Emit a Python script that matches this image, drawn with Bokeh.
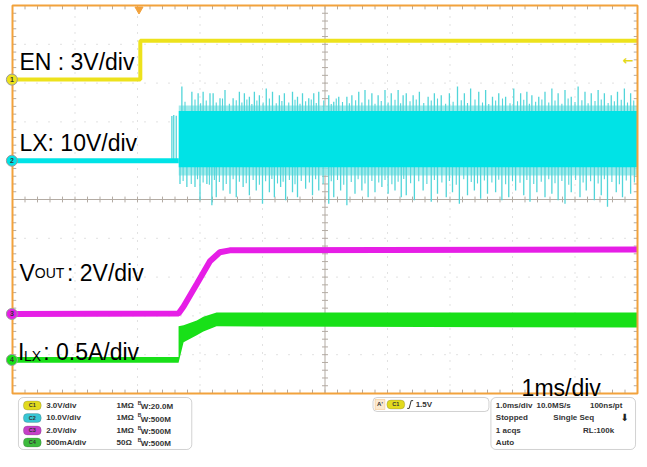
import numpy as np
from bokeh.plotting import figure
from bokeh.models import Range1d, Label, BoxAnnotation
from bokeh.core.properties import value
from bokeh.embed import file_html
from bokeh.resources import INLINE

# ---------------- data (x: time in ms, 1 ms/div; y: screen divisions from bottom)
en_time = [0.0, 2.045, 2.045, 10.0]
en_level = [8.09, 8.09, 9.09, 9.09]

lx_base_time = [0.0, 2.66]
lx_base_level = [6.00, 6.00]
lx_band_time = [2.66, 10.0]
lx_band_top = [7.28, 7.28]
lx_band_bot = [5.83, 5.83]
lx_fuzz_top = [7.42, 7.42]
lx_fuzz_bot = [5.62, 5.62]

lx_up_time = [2.55, 2.58, 2.62,
              2.71, 2.87, 2.97, 3.05, 3.16, 3.21, 3.32, 3.40, 3.53, 3.63,
              3.71, 3.79, 3.87, 3.95, 4.06, 4.16, 4.27, 4.35, 4.48, 4.56,
              4.64, 4.74, 4.82, 4.90, 5.06, 5.14, 5.22, 5.35, 5.43, 5.54,
              5.64, 5.75, 5.85, 5.96, 6.06, 6.17, 6.25,
              6.30, 6.41, 6.51, 6.65, 6.75, 6.86, 6.99, 7.12, 7.23, 7.33,
              7.46, 7.57, 7.68, 7.78, 7.89, 8.02, 8.13, 8.23, 8.31, 8.42,
              8.52, 8.63, 8.73, 8.84, 8.94, 9.05, 9.16, 9.26, 9.37, 9.47,
              9.58, 9.68, 9.79, 9.89]
lx_up_tip = [7.15, 7.18, 7.16,
             7.91, 7.78, 7.74, 7.78, 7.74, 7.74, 7.61, 7.82, 7.61, 7.78,
             7.74, 7.65, 7.78, 7.69, 7.86, 7.78, 7.69, 7.74, 7.78, 7.65,
             7.74, 7.61, 7.74, 7.78, 7.69, 7.52, 7.65, 7.65, 7.69, 7.78,
             7.82, 7.74, 7.69, 7.82, 7.74, 7.82, 7.69,
             7.74, 7.69, 7.78, 7.65, 7.74, 7.69, 7.74, 7.91, 7.74, 7.86,
             7.78, 7.82, 7.65, 7.74, 7.65, 7.86, 7.74, 7.78, 7.69, 7.65,
             7.78, 7.86, 7.74, 7.82, 7.65, 7.91, 7.78, 7.74, 7.82, 7.74,
             7.69, 7.78, 7.86, 7.74]
# shorter, denser spikes of the hairy edge above the band
lx_up2_time = [2.76, 2.92, 3.01, 3.10, 3.26, 3.36, 3.47, 3.58, 3.67, 3.75,
               3.83, 3.91, 4.01, 4.11, 4.22, 4.31, 4.42, 4.52, 4.60, 4.69,
               4.78, 4.86, 4.98, 5.10, 5.18, 5.28, 5.39, 5.49, 5.59, 5.70,
               5.80, 5.90, 6.01, 6.12, 6.21, 6.36, 6.46, 6.58, 6.70, 6.80,
               6.93, 7.05, 7.18, 7.28, 7.40, 7.52, 7.62, 7.73, 7.84, 7.96,
               8.08, 8.18, 8.27, 8.37, 8.47, 8.58, 8.68, 8.79, 8.89, 9.00,
               9.11, 9.21, 9.32, 9.42, 9.53, 9.63, 9.74, 9.84, 9.94]
lx_up2_tip = [7.52, 7.58, 7.48, 7.55, 7.50, 7.60, 7.47, 7.56, 7.50, 7.58,
              7.46, 7.55, 7.50, 7.60, 7.48, 7.54, 7.50, 7.57, 7.47, 7.53,
              7.58, 7.49, 7.55, 7.46, 7.60, 7.51, 7.48, 7.56, 7.50, 7.58,
              7.47, 7.54, 7.50, 7.57, 7.48, 7.53, 7.58, 7.49, 7.55, 7.60,
              7.47, 7.52, 7.56, 7.49, 7.58, 7.50, 7.46, 7.55, 7.60, 7.48,
              7.53, 7.57, 7.47, 7.52, 7.58, 7.50, 7.55, 7.47, 7.60, 7.51,
              7.56, 7.48, 7.54, 7.58, 7.49, 7.53, 7.57, 7.50, 7.55]
lx_dn_time = [2.68, 2.79, 2.92, 3.00, 3.11, 3.19, 3.26, 3.37, 3.48, 3.58,
              3.69, 3.79, 3.90, 4.00, 4.11, 4.19, 4.29, 4.37, 4.48, 4.56,
              4.69, 4.80, 4.90, 5.06, 5.14, 5.25, 5.35, 5.48, 5.59, 5.69,
              5.80, 5.91, 6.01, 6.12, 6.22,
              6.30, 6.43, 6.57, 6.70, 6.80, 6.94, 7.04, 7.15, 7.28, 7.39,
              7.49, 7.60, 7.73, 7.83, 7.94, 8.05, 8.18, 8.28, 8.39, 8.52,
              8.63, 8.73, 8.84, 8.94, 9.08, 9.18, 9.31, 9.42, 9.52, 9.66,
              9.76, 9.89]
lx_dn_tip = [5.40, 5.32, 5.32, 4.98, 5.40, 4.85, 5.06, 5.23, 5.15, 5.06,
             5.32, 5.11, 5.23, 4.89, 5.19, 5.06, 5.32, 4.98, 5.19, 5.06,
             5.28, 5.11, 5.23, 4.89, 5.06, 5.23, 4.85, 5.15, 5.23, 5.06,
             5.19, 5.32, 5.15, 5.23, 5.06,
             5.11, 4.98, 5.23, 4.94, 5.15, 5.06, 5.19, 4.89, 5.11, 5.23,
             5.02, 5.15, 5.19, 4.98, 5.06, 5.23, 5.11, 4.94, 5.19, 5.06,
             5.15, 4.98, 4.89, 5.19, 5.06, 5.23, 4.98, 5.11, 4.81, 5.19,
             5.06, 5.15]
# shorter, denser spikes of the hairy edge below the band
lx_dn2_time = [2.73, 2.86, 2.96, 3.05, 3.15, 3.23, 3.31, 3.42, 3.53, 3.63,
               3.74, 3.85, 3.95, 4.05, 4.15, 4.24, 4.33, 4.43, 4.52, 4.62,
               4.75, 4.85, 4.97, 5.10, 5.20, 5.30, 5.42, 5.53, 5.64, 5.75,
               5.86, 5.96, 6.07, 6.17, 6.26, 6.37, 6.50, 6.63, 6.75, 6.87,
               6.99, 7.10, 7.22, 7.34, 7.44, 7.55, 7.67, 7.78, 7.89, 8.00,
               8.12, 8.23, 8.34, 8.46, 8.58, 8.68, 8.79, 8.90, 9.01, 9.13,
               9.25, 9.37, 9.47, 9.59, 9.71, 9.82, 9.95]
lx_dn2_tip = [5.48, 5.40, 5.52, 5.44, 5.38, 5.50, 5.45, 5.40, 5.52, 5.46,
              5.42, 5.50, 5.38, 5.47, 5.53, 5.41, 5.46, 5.50, 5.39, 5.48,
              5.44, 5.52, 5.40, 5.47, 5.50, 5.38, 5.45, 5.52, 5.41, 5.48,
              5.44, 5.50, 5.39, 5.46, 5.53, 5.42, 5.47, 5.40, 5.50, 5.44,
              5.48, 5.38, 5.52, 5.45, 5.41, 5.49, 5.44, 5.51, 5.39, 5.47,
              5.43, 5.50, 5.40, 5.46, 5.52, 5.42, 5.48, 5.38, 5.50, 5.44,
              5.47, 5.41, 5.52, 5.45, 5.39, 5.49, 5.44]

vout_time = [0.0, 2.657, 2.737, 2.948, 3.159, 3.317, 3.476, 10.0]
vout_level = [2.05, 2.06, 2.24, 2.82, 3.41, 3.64, 3.69, 3.71]

ilx_time = [0.0, 2.657, 2.657, 2.737, 2.948, 3.054, 3.265, 10.0]
ilx_top = [0.94, 0.94, 1.73, 1.76, 1.88, 1.98, 2.09, 2.09]
ilx_bot = [0.79, 0.79, 0.79, 1.32, 1.50, 1.60, 1.73, 1.70]

trace_labels = ["EN : 3V/div", "LX: 10V/div", "1ms/div"]
ch_names = ["C1", "C2", "C3", "C4"]
ch_numbers = ["1", "2", "3", "4"]
ch_scale = ["3.0V/div", "10.0V/div", "2.0V/div", "500mA/div"]
ch_imp = ["1MΩ", "1MΩ", "1MΩ", "50Ω"]
ch_bw = ["W:20.0M", "W:500M", "W:500M", "W:500M"]
acq_rows = [["1.0ms/div", "10.0MS/s", "100ns/pt"],
            ["Stopped", "Single Seq", ""],
            ["1 acqs", "", "RL:100k"],
            ["Auto", "", ""]]
trig_text = "1.5V"

# colours
YEL, CYA, MAG, GRN = "#EDE21C", "#00E3E6", "#E61EE6", "#18E018"
SPIKE = "#52d5d9"
PILL = ["#E2DA1E", "#38C6D4", "#C640C8", "#3DBB3D"]
ORANGE = "#F2A23C"
FONT = "Liberation Sans"

# decoration layout helpers
def RX(px):          # reference pixel column -> screen units
    return (px - 14) / 63.1

def PY(py):          # own page row -> screen units
    return (393 - py) / 38.8

p = figure(width=639, height=451, x_range=Range1d(-0.192, 10.032),
           y_range=Range1d(-1.495, 10.129), x_axis_type=None, y_axis_type=None,
           output_backend="svg", toolbar_location=None, min_border=0,
           outline_line_color=None, background_fill_color="white",
           border_fill_color="white")
p.grid.visible = False

# ---- graticule
GRID = "#c4c4c4"
gl = [k for k in range(1, 10) if k != 5]
p.segment(x0=gl, x1=gl, y0=[0] * len(gl), y1=[10] * len(gl),
          line_color=GRID, line_width=1, line_dash="1 7")
p.segment(x0=[0] * len(gl), x1=[10] * len(gl), y0=gl, y1=gl,
          line_color=GRID, line_width=1, line_dash="1 11")
CL = "#b3aba3"
p.segment(x0=[5, 0], x1=[5, 10], y0=[0, 5], y1=[10, 5], line_color=CL, line_width=1)
tk = np.round(np.arange(0.2, 10.0, 0.2), 2)
p.segment(x0=tk, x1=tk, y0=5 - 0.075, y1=5 + 0.075, line_color=CL, line_width=1)
p.segment(x0=5 - 0.048, x1=5 + 0.048, y0=tk, y1=tk, line_color=CL, line_width=1)
p.segment(x0=0, x1=0.06, y0=tk, y1=tk, line_color=CL, line_width=1)
p.segment(x0=10 - 0.06, x1=10, y0=tk, y1=tk, line_color=CL, line_width=1)
p.segment(x0=tk, x1=tk, y0=0, y1=0.1, line_color=CL, line_width=1)
p.segment(x0=tk, x1=tk, y0=10 - 0.1, y1=10, line_color=CL, line_width=1)

# ---- traces
# EN
p.line(en_time, en_level, line_color=YEL, line_width=4)
# LX
p.varea(x=lx_band_time, y1=lx_fuzz_bot, y2=lx_fuzz_top, fill_color="#8fe6e8", fill_alpha=0.85)
lx_b = lx_base_level[0]
for tt, tp, w in ((lx_up2_time, lx_up2_tip, 1.1), (lx_dn2_time, lx_dn2_tip, 1.1),
                  (lx_up_time, lx_up_tip, 1.3), (lx_dn_time, lx_dn_tip, 1.3)):
    p.segment(x0=tt, x1=tt, y0=[lx_b] * len(tt), y1=tp, line_color=SPIKE, line_width=w)
p.line(lx_base_time, lx_base_level, line_color=CYA, line_width=5)
p.varea(x=lx_band_time, y1=lx_band_bot, y2=lx_band_top, fill_color=CYA)
# VOUT
p.line(vout_time, vout_level, line_color=MAG, line_width=6)
# ILX
p.varea(x=ilx_time, y1=ilx_bot, y2=ilx_top, fill_color=GRN)

# ---- border
p.quad(left=0, right=10, bottom=0, top=10, fill_alpha=0, line_color=ORANGE, line_width=2)

# ---- channel ground markers
gnd = [en_level[0], lx_base_level[0], vout_level[0], (ilx_top[0] + ilx_bot[0]) / 2]
p.scatter(x=[-0.01] * 4, y=gnd, size=11, fill_color=[YEL, CYA, MAG, GRN],
          line_color="#9a9a9a", line_width=1)
p.text(x=[-0.01] * 4, y=gnd, text=ch_numbers, text_font=value(FONT),
       text_font_size="7px", text_font_style="bold", text_color="#333333",
       text_align="center", text_baseline="middle")

# trigger position & level markers
p.scatter(x=[RX(141.7)], y=[10 - 0.1], marker="inverted_triangle", size=8,
          fill_color=ORANGE, line_color=ORANGE)
p.text(x=[RX(630)], y=[8.57], text=["←"], text_font=value("DejaVu Sans"),
       text_font_size="13px", text_font_style="bold", text_color="#E3D81A",
       text_baseline="middle")

# ---- on-screen labels
def lab(x, y, text, size="23px"):
    p.add_layout(Label(x=x, y=y, text=text, text_font=FONT, text_font_size=size,
                       text_color="black", text_baseline="alphabetic"))

lab(RX(21), 8.55, trace_labels[0])
lab(RX(21), 6.45, trace_labels[1])
lab(RX(21), 3.10, "V")
lab(RX(36.5), 3.10, "OUT", size="14px")
lab(RX(69), 3.10, ": 2V/div")
lab(RX(19.5), 1.07, "I")
lab(RX(25.5), 0.97, "LX", size="14px")
lab(RX(45), 1.07, ": 0.5A/div")
lab(RX(528), 0.13, trace_labels[2])

# ---- bottom info panel
BOXL = "#6a6a6a"
box_top, box_bot = PY(397), PY(449)

def box(l, r, t, b, fill="white", line=BOXL, radius=5, lw=1.0):
    p.add_layout(BoxAnnotation(left=l, right=r, top=t, bottom=b, fill_color=fill,
                               fill_alpha=1, line_color=line, line_width=lw,
                               border_radius=radius, level="underlay"))

box(RX(20), RX(195), box_top, box_bot)
box(RX(378), RX(495), box_top, PY(411), radius=4)
box(RX(497), RX(643), box_top, box_bot)

rows_y = [PY(405), PY(417.5), PY(430), PY(442)]
for i in range(4):
    box(RX(25), RX(43), rows_y[i] + 0.115, rows_y[i] - 0.115, fill=PILL[i],
        line="#555555", radius=4, lw=0.8)
INFO = dict(text_font=value(FONT), text_font_style="bold", text_font_size="8px",
            text_color="#333333", text_baseline="middle")
p.text(x=[RX(34)] * 4, y=rows_y, text=ch_names, text_font=value(FONT),
       text_font_style="bold", text_font_size="5.5px", text_color="#333333",
       text_baseline="middle", text_align="center")
p.text(x=[RX(48)] * 4, y=rows_y, text=ch_scale, **INFO)
p.text(x=[RX(119)] * 4, y=rows_y, text=ch_imp, **INFO)
p.text(x=[RX(140.5)] * 4, y=[r + 0.07 for r in rows_y], text=["B"] * 4,
       text_font=value(FONT), text_font_style="bold", text_font_size="5px",
       text_color="#333333", text_baseline="middle")
p.text(x=[RX(143.5)] * 4, y=[r - 0.03 for r in rows_y], text=ch_bw, **INFO)

# trigger box
ty = PY(404)
box(RX(380), RX(390), PY(399), PY(409), fill="#fbe9d0", line=ORANGE, radius=0)
p.text(x=[RX(385)], y=[ty], text=["A'"], text_font=value(FONT), text_font_style="bold",
       text_font_size="6px", text_color="#333333", text_baseline="middle",
       text_align="center")
box(RX(392), RX(410), ty + 0.115, ty - 0.115, fill=PILL[0], line="#555555",
    radius=4, lw=0.8)
p.text(x=[RX(401)], y=[ty], text=[ch_names[0]], text_font=value(FONT),
       text_font_style="bold", text_font_size="5.5px", text_color="#333333",
       text_baseline="middle", text_align="center")
p.line(x=[RX(412.5), RX(414.5), RX(416.5), RX(418.5)],
       y=[ty - 0.1, ty - 0.1, ty + 0.1, ty + 0.1], line_color="#333333", line_width=1)
p.text(x=[RX(421)], y=[ty], text=[trig_text], **INFO)

# acquisition box
col_x = [RX(502), RX(543), RX(597)]
col_x2 = [RX(502), RX(560), RX(590)]
for r in range(4):
    xs = col_x if r == 0 else col_x2
    for c in range(3):
        if acq_rows[r][c]:
            p.text(x=[xs[c]], y=[rows_y[r]], text=[acq_rows[r][c]], **INFO)
p.text(x=[RX(632)], y=[rows_y[1]], text=["⬇"], text_font=value("DejaVu Sans"),
       text_font_size="10px", text_color="#222222", text_baseline="middle",
       text_align="center")

open("out.html", "w").write(file_html(p, INLINE))
